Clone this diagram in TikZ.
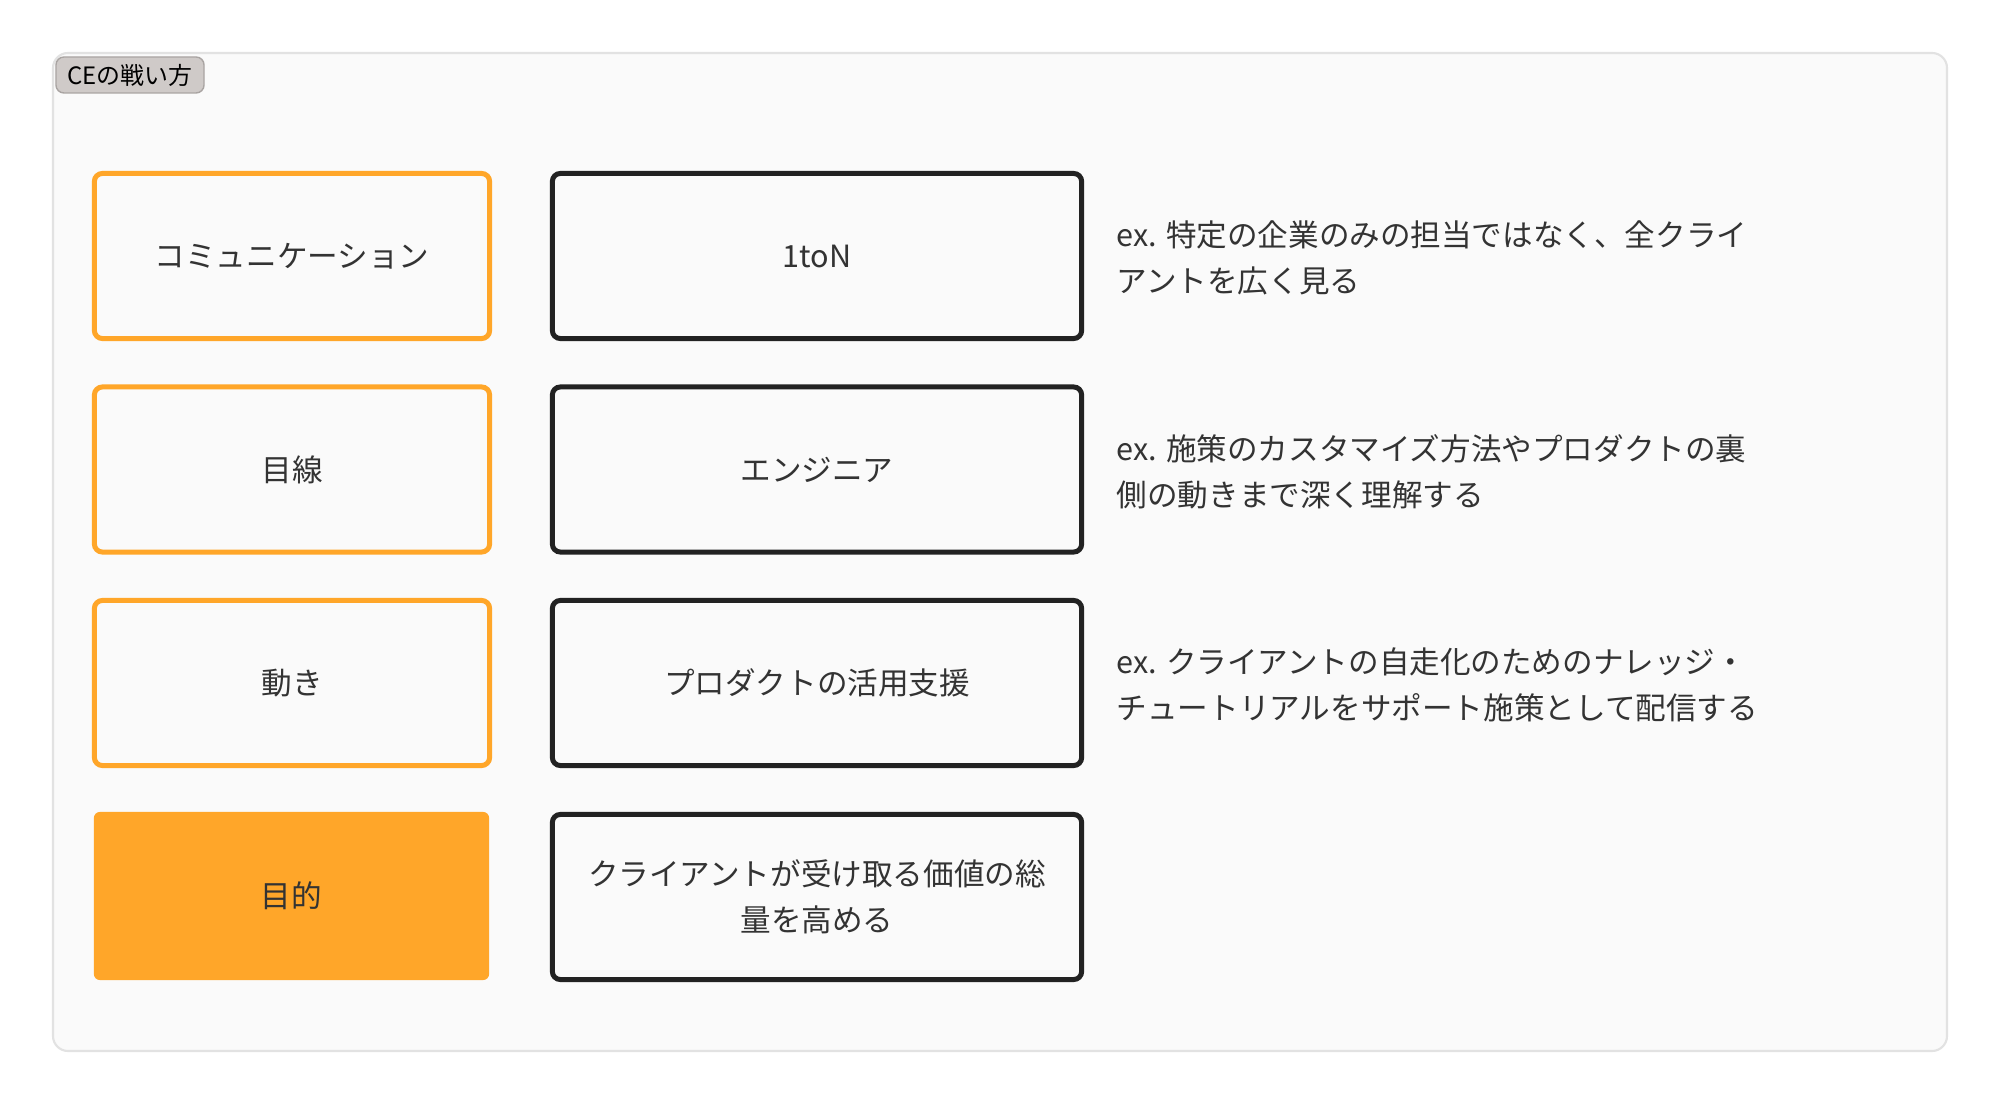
\documentclass[tikz,border=0pt]{standalone}
\usepackage{fontspec}
\setmainfont{Noto Sans CJK JP}
\usepackage{tikz}
\usepackage{color}
\definecolor{orangeline}{HTML}{FFA629}
\definecolor{boxline}{HTML}{222222}
\definecolor{textgray}{HTML}{333333}
\definecolor{bgfill}{HTML}{FAFAFA}
\definecolor{framegray}{HTML}{E2E2E2}
\definecolor{tagfill}{HTML}{CFCAC8}
\definecolor{tagline}{HTML}{A9A4A2}

\begin{document}
\begin{tikzpicture}[x=0.01cm,y=-0.01cm,
	font=\fontsize{8.7}{13.1}\selectfont,text=textgray,
	kanten/.style={draw=orangeline,line width=1.42pt,rounded corners=0.08cm,fill=bgfill,
		minimum width=3.95cm,minimum height=1.65cm,inner sep=0pt},
	mokuteki/.style={fill=orangeline,rounded corners=0.06cm,
		minimum width=3.95cm,minimum height=1.68cm,inner sep=0pt},
	senryaku/.style={draw=boxline,line width=1.42pt,rounded corners=0.08cm,fill=bgfill,
		minimum width=5.29cm,minimum height=1.65cm,inner sep=0pt,align=center},
	rei/.style={anchor=west,align=left,inner sep=0pt}]
			\useasboundingbox[fill=white](0,0) rectangle (2000,1104);
			% frame and title tag
			\draw[draw=framegray,line width=0.6pt,fill=bgfill,rounded corners=0.15cm](53,53) rectangle (1947,1051);
			\node [draw=tagline,line width=0.4pt,fill=tagfill,rounded corners=0.08cm,
				minimum width=1.48cm,minimum height=0.36cm,inner sep=0pt,text=black,
				font=\fontsize{6.8}{8}\selectfont] (tag) at (130,75) {CEの戦い方};
			% left column
			\node [kanten] (komyu) at (292,256) {コミュニケーション};
			\node [kanten] (mesen) at (292,469.5) {目線};
			\node [kanten] (ugoki) at (292,683) {動き};
			\node [mokuteki] (mokuteki) at (291.5,896) {目的};
			% middle column
			\node [senryaku] (onetoN) at (817,256) {1toN};
			\node [senryaku] (engineer) at (817,469.5) {エンジニア};
			\node [senryaku] (katsuyou) at (817,683) {プロダクトの活用支援};
			\node [senryaku] (kachi) at (817,897) {クライアントが受け取る価値の総\\量を高める};
			% examples
			\node [rei] (rei1) at (1116,258) {ex. 特定の企業のみの担当ではなく、全クライ\\アントを広く見る};
			\node [rei] (rei2) at (1116,471.5) {ex. 施策のカスタマイズ方法やプロダクトの裏\\側の動きまで深く理解する};
			\node [rei] (rei3) at (1116,685) {ex. クライアントの自走化のためのナレッジ・\\チュートリアルをサポート施策として配信する};
		\end{tikzpicture}
\end{document}
